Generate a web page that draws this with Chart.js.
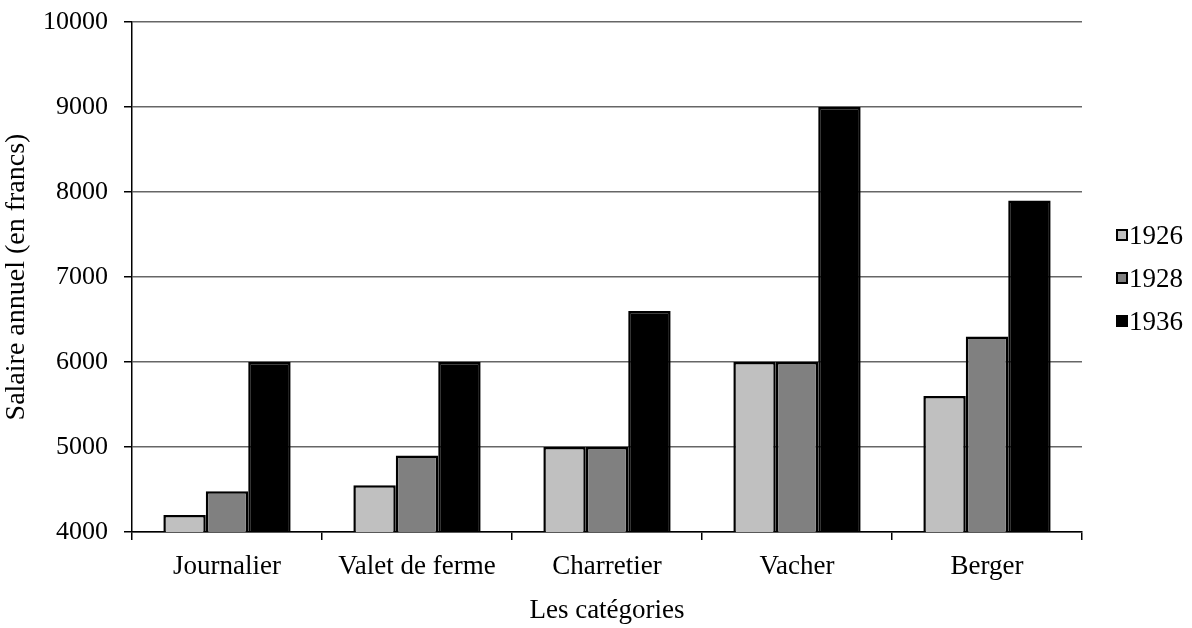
<!DOCTYPE html>
<html>
<head>
<meta charset="utf-8">
<script src="https://cdn.jsdelivr.net/npm/chart.js@4.4.0/dist/chart.umd.min.js"></script>
<style>
html,body{margin:0;padding:0;background:#fff;}
#wrap{width:1192px;height:628px;position:relative;}
</style>
</head>
<body>
<div id="wrap"><canvas id="c" width="1192" height="628"></canvas></div>
<script>
const categories = ["Journalier", "Valet de ferme", "Charretier", "Vacher", "Berger"];
const seriesNames = ["1926", "1928", "1936"];
const values1926 = [4200, 4550, 5000, 6000, 5600];
const values1928 = [4480, 4900, 5000, 6000, 6300];
const values1936 = [6000, 6000, 6600, 9000, 7900];
const seriesColors = ["#C0C0C0", "#808080", "#000000"];
const yTicks = [4000, 5000, 6000, 7000, 8000, 9000, 10000];
const yTitle = "Salaire annuel (en francs)";
const xTitle = "Les catégories";

const FONT = "'Liberation Serif', 'Times New Roman', serif";

const legendPlugin = {
  id: 'sideLegend',
  afterDraw(chart) {
    const ctx = chart.ctx;
    const ds = chart.data.datasets;
    const x0 = 1117, yStart = 235, step = 43;
    ctx.save();
    ctx.font = "27px " + FONT;
    ctx.textBaseline = "middle";
    ctx.textAlign = "left";
    ds.forEach((d, i) => {
      const y = yStart + i * step;
      ctx.fillStyle = d.backgroundColor;
      ctx.fillRect(x0, y - 5, 10, 10);
      ctx.strokeStyle = "#000";
      ctx.lineWidth = 2;
      ctx.strokeRect(x0, y - 5, 10, 10);
      ctx.fillStyle = "#000";
      ctx.fillText(d.label, x0 + 12, y + 2);
    });
    ctx.restore();
  }
};

new Chart(document.getElementById('c'), {
  type: 'bar',
  data: {
    labels: categories,
    datasets: [
      { label: seriesNames[0], data: values1926, backgroundColor: seriesColors[0] },
      { label: seriesNames[1], data: values1928, backgroundColor: seriesColors[1] },
      { label: seriesNames[2], data: values1936, backgroundColor: seriesColors[2] }
    ].map(d => Object.assign(d, { borderColor: "#000", borderWidth: 2.5, categoryPercentage: 0.67, barPercentage: 1.0 }))
  },
  options: {
    responsive: false,
    animation: false,
    devicePixelRatio: 1,
    layout: { padding: { left: 0, right: 110, top: 22, bottom: 0 } },
    plugins: {
      legend: { display: false },
      tooltip: { enabled: false }
    },
    scales: {
      x: {
        offset: true,
        grid: { display: true, drawOnChartArea: false, drawTicks: true, tickLength: 8, color: "#000", lineWidth: 1.5 },
        border: { display: true, color: "#000", width: 1.5 },
        ticks: { color: "#000", font: { family: FONT, size: 27 }, padding: 11, maxRotation: 0, autoSkip: false },
        title: { display: true, text: xTitle, color: "#000", font: { family: FONT, size: 27 }, padding: { top: 4, bottom: 1 } },
        afterFit(scale) { scale.height = 96; scale.paddingLeft = 0; scale.paddingRight = 0; }
      },
      y: {
        min: 4000, max: 10000,
        afterBuildTicks(scale) { scale.ticks = yTicks.map(v => ({ value: v })); },
        grid: { color: "#666", lineWidth: 1.5, drawTicks: true, tickLength: 8, tickColor: "#000" },
        border: { display: true, color: "#000", width: 1.5 },
        ticks: { color: "#000", font: { family: FONT, size: 26 }, padding: 16, callback: v => String(v) },
        title: { display: true, text: yTitle, color: "#000", font: { family: FONT, size: 28 }, padding: { top: 0, bottom: 4 } },
        afterFit(scale) { scale.width = 132; scale.paddingTop = 0; scale.paddingBottom = 0; }
      }
    }
  },
  plugins: [legendPlugin]
});
</script>
</body>
</html>
